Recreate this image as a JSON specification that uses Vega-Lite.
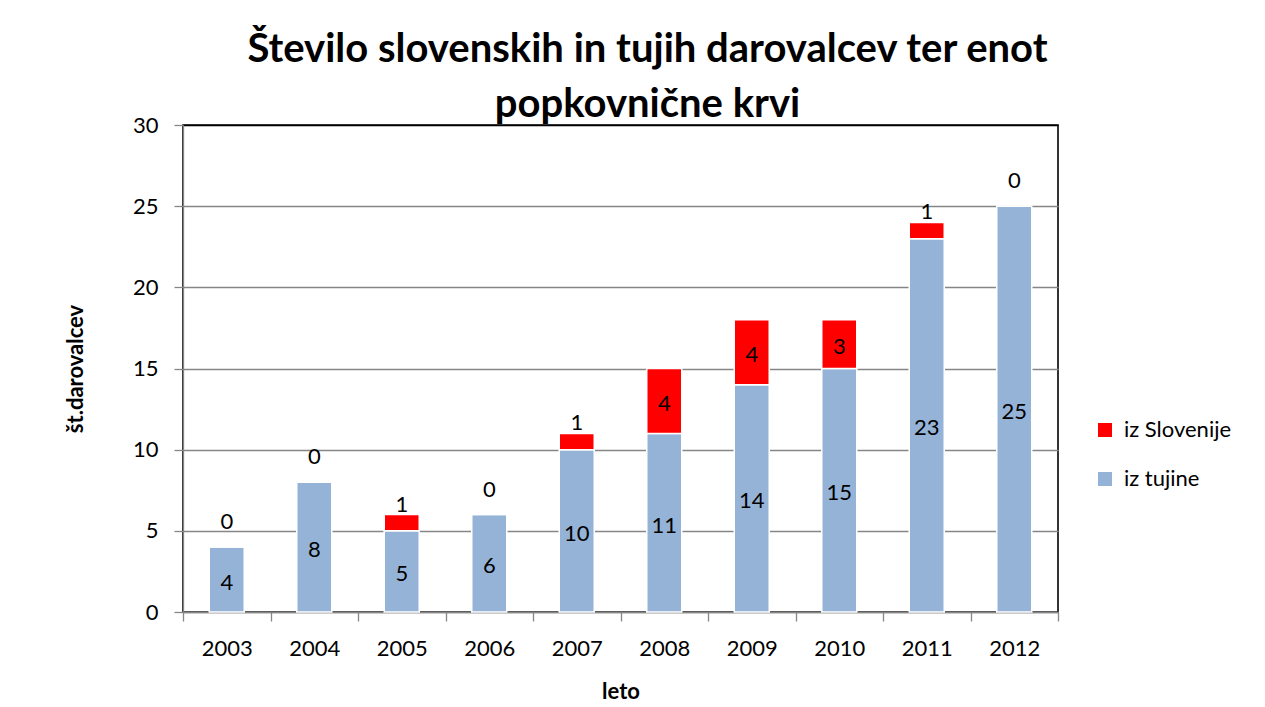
{
  "$schema": "https://vega.github.io/schema/vega-lite/v6.json",
  "width": 875,
  "height": 487,
  "autosize": {"type": "none"},
  "padding": {"left": 183, "top": 125, "right": 207, "bottom": 95},
  "background": "white",
  "title": {
    "text": ["Število slovenskih in tujih darovalcev ter enot", "popkovnične krvi"],
    "font": "Lato",
    "fontSize": 40,
    "fontWeight": "bold",
    "color": "black",
    "lineHeight": 55,
    "anchor": "middle",
    "dx": 27,
    "offset": -11
  },
  "config": {
    "font": "Lato",
    "view": {"stroke": "black", "strokeWidth": 1.6},
    "axis": {
      "labelFont": "Lato",
      "labelFontSize": 22,
      "labelColor": "black",
      "titleFont": "Lato",
      "titleFontSize": 22,
      "titleFontWeight": "bold",
      "titleColor": "black",
      "domainColor": "#868686",
      "domainWidth": 1.3,
      "tickColor": "#868686",
      "tickWidth": 1.3,
      "tickSize": 9,
      "gridColor": "#868686",
      "gridWidth": 1.3
    }
  },
  "data": {
    "values": [
      {"year": "2003", "series": "iz tujine", "value": 4},
      {"year": "2004", "series": "iz tujine", "value": 8},
      {"year": "2005", "series": "iz tujine", "value": 5},
      {"year": "2006", "series": "iz tujine", "value": 6},
      {"year": "2007", "series": "iz tujine", "value": 10},
      {"year": "2008", "series": "iz tujine", "value": 11},
      {"year": "2009", "series": "iz tujine", "value": 14},
      {"year": "2010", "series": "iz tujine", "value": 15},
      {"year": "2011", "series": "iz tujine", "value": 23},
      {"year": "2012", "series": "iz tujine", "value": 25},
      {"year": "2003", "series": "iz Slovenije", "value": 0},
      {"year": "2004", "series": "iz Slovenije", "value": 0},
      {"year": "2005", "series": "iz Slovenije", "value": 1},
      {"year": "2006", "series": "iz Slovenije", "value": 0},
      {"year": "2007", "series": "iz Slovenije", "value": 1},
      {"year": "2008", "series": "iz Slovenije", "value": 4},
      {"year": "2009", "series": "iz Slovenije", "value": 4},
      {"year": "2010", "series": "iz Slovenije", "value": 3},
      {"year": "2011", "series": "iz Slovenije", "value": 1},
      {"year": "2012", "series": "iz Slovenije", "value": 0}
    ]
  },
  "transform": [
    {"stack": "value", "groupby": ["year"], "sort": [{"field": "series", "order": "descending"}], "as": ["y0", "y1"]},
    {"calculate": "(datum.y0 + datum.y1) / 2", "as": "mid"}
  ],
  "layer": [
    {
      "mark": {"type": "bar", "size": 35, "stroke": "white", "strokeWidth": 1.5},
      "encoding": {
        "x": {
          "field": "year", "type": "ordinal", "title": "leto",
          "scale": {"paddingInner": 0, "paddingOuter": 0},
          "axis": {"labelAngle": 0, "tickBand": "extent", "labelPadding": 17, "titlePadding": 22, "grid": false}
        },
        "y": {
          "field": "y0", "type": "quantitative", "title": "št.darovalcev",
          "scale": {"domain": [0, 30], "nice": false},
          "axis": {
            "values": [0, 5, 10, 15, 20, 25, 30], "grid": true, "labelPadding": 16, "titlePadding": 45,
            "gridColor": {"condition": {"test": "datum.value == 30", "value": "black"}, "value": "#868686"},
            "gridWidth": {"condition": {"test": "datum.value == 30", "value": 1.6}, "value": 1.3}
          }
        },
        "y2": {"field": "y1"},
        "color": {
          "field": "series", "type": "nominal",
          "scale": {"domain": ["iz Slovenije", "iz tujine"], "range": ["#FF0000", "#95B3D7"]},
          "legend": {
            "title": null, "orient": "none", "legendX": 911, "legendY": 294,
            "symbolType": "square", "symbolSize": 196, "symbolStrokeWidth": 0,
            "labelFont": "Lato", "labelFontSize": 22, "labelColor": "black",
            "labelOffset": 8, "rowPadding": 27, "padding": 0
          }
        }
      }
    },
    {
      "transform": [{"filter": "datum.value >= 2"}],
      "mark": {"type": "text", "fontSize": 22, "baseline": "middle", "dy": 3, "color": "black"},
      "encoding": {
        "x": {"field": "year", "type": "ordinal", "title": "leto"},
        "y": {"field": "mid", "type": "quantitative", "title": "št.darovalcev"},
        "text": {"field": "value"}
      }
    },
    {
      "transform": [{"filter": "datum.value == 1"}],
      "mark": {"type": "text", "fontSize": 22, "baseline": "middle", "dy": -10, "color": "black"},
      "encoding": {
        "x": {"field": "year", "type": "ordinal", "title": "leto"},
        "y": {"field": "y1", "type": "quantitative", "title": "št.darovalcev"},
        "text": {"field": "value"}
      }
    },
    {
      "transform": [{"filter": "datum.value == 0"}],
      "mark": {"type": "text", "fontSize": 22, "baseline": "middle", "dy": -25, "color": "black"},
      "encoding": {
        "x": {"field": "year", "type": "ordinal", "title": "leto"},
        "y": {"field": "y1", "type": "quantitative", "title": "št.darovalcev"},
        "text": {"field": "value"}
      }
    }
  ]
}
